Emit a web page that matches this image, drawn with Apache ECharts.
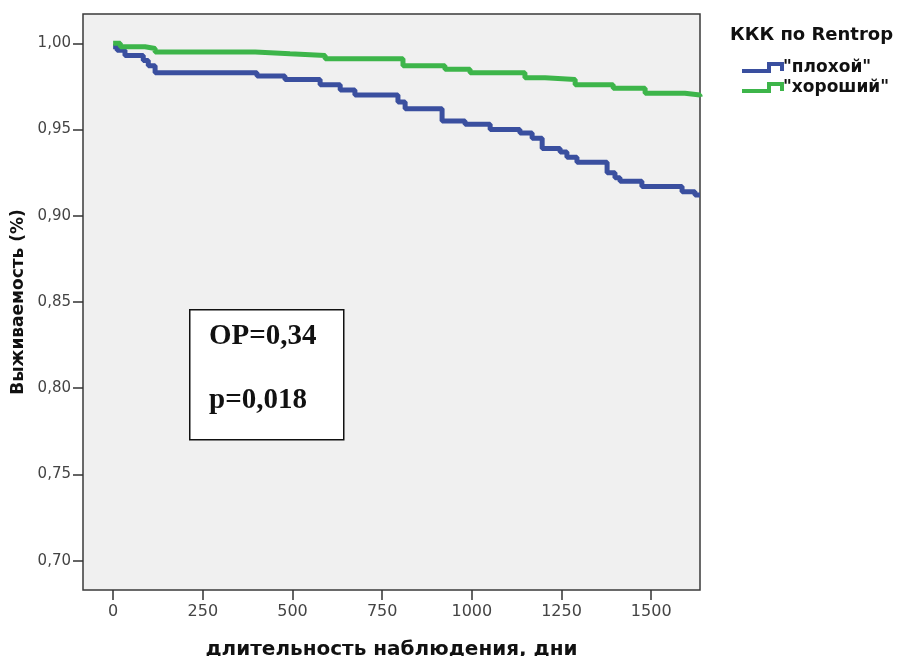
<!DOCTYPE html>
<html>
<head>
<meta charset="utf-8">
<script src="https://cdn.jsdelivr.net/npm/echarts@6/dist/echarts.min.js"></script>
<style>
  html, body { margin: 0; padding: 0; background: #fff; }
  #chart { width: 899px; height: 656px; }
</style>
</head>
<body>
<div id="chart"></div>
<script>
// кривые выживаемости (Каплан-Мейер), точки ступенек: [день, доля]
var badDays = [0, 11, 33, 84, 98, 117, 401, 479, 577, 633, 674, 794, 814, 917, 981, 1051, 1134, 1168, 1196, 1246, 1265, 1293, 1377, 1399, 1413, 1474, 1586, 1622, 1636];
var badSurv = [0.998, 0.996, 0.993, 0.990, 0.987, 0.983, 0.981, 0.979, 0.976, 0.973, 0.970, 0.966, 0.962, 0.955, 0.953, 0.950, 0.948, 0.945, 0.939, 0.937, 0.934, 0.931, 0.925, 0.922, 0.920, 0.917, 0.914, 0.912, 0.912];
var goodDays = [0, 20, 89, 117, 396, 493, 591, 808, 925, 995, 1148, 1204, 1288, 1394, 1483, 1594, 1636];
var goodSurv = [1.000, 0.998, 0.997, 0.995, 0.994, 0.993, 0.991, 0.987, 0.985, 0.983, 0.980, 0.979, 0.976, 0.974, 0.971, 0.970, 0.969];

var seriesNames = ['"плохой"', '"хороший"'];
var xTicks = [0, 250, 500, 750, 1000, 1250, 1500];
var yTicks = [0.70, 0.75, 0.80, 0.85, 0.90, 0.95, 1.00];

function pairs(xs, ys) {
    var out = [];
    for (var i = 0; i < xs.length; i++) {
        out.push([xs[i], ys[i]]);
    }
    return out;
}

// значок легенды в виде ступеньки, как в SPSS
var stepIcon = 'path://M0,7 L25,7 L25,0 L42,0 L42,9 L38,9 L38,4 L29,4 L29,11 L0,11 Z';

var chart = echarts.init(document.getElementById('chart'));
var option = {
    animation: false,
    backgroundColor: '#fff',
    title: {
        text: 'ККК по Rentrop',
        left: 725,
        top: 21,
        textStyle: {
            fontFamily: 'DejaVu Sans',
            fontSize: 18,
            fontWeight: 'bold',
            color: '#111'
        }
    },
    legend: {
        orient: 'vertical',
        left: 737,
        top: 54,
        itemGap: 3,
        itemWidth: 42,
        itemHeight: 11,
        data: [
            { name: seriesNames[0], icon: stepIcon },
            { name: seriesNames[1], icon: stepIcon }
        ],
        textStyle: {
            fontFamily: 'DejaVu Sans',
            fontWeight: 'bold',
            fontSize: 17,
            color: '#111',
            padding: [0, 0, 0, -6]
        }
    },
    grid: {
        left: 83,
        top: 14,
        right: 199,
        bottom: 66,
        outerBoundsMode: 'none',
        containLabel: false,
        show: true,
        backgroundColor: '#f0f0f0',
        borderColor: '#3a3a3a',
        borderWidth: 1.5
    },
    xAxis: {
        type: 'value',
        min: -84,
        max: 1636,
        name: 'длительность наблюдения, дни',
        nameLocation: 'middle',
        nameGap: 50,
        nameTextStyle: {
            fontFamily: 'DejaVu Sans',
            fontWeight: 'bold',
            fontSize: 20,
            color: '#111'
        },
        axisLine: { show: false, onZero: false },
        splitLine: { show: false },
        axisTick: {
            customValues: xTicks,
            length: 10,
            lineStyle: { color: '#333', width: 1.5 }
        },
        axisLabel: {
            customValues: xTicks,
            margin: 14,
            fontFamily: 'DejaVu Sans',
            fontSize: 16,
            color: '#444',
            formatter: function (v) {
                return String(v);
            }
        }
    },
    yAxis: {
        type: 'value',
        min: 0.683,
        max: 1.017,
        name: 'Выживаемость (%)',
        nameLocation: 'middle',
        nameGap: 53,
        nameTextStyle: {
            fontFamily: 'DejaVu Sans',
            fontWeight: 'bold',
            fontSize: 17,
            color: '#111'
        },
        axisLine: { show: false, onZero: false },
        splitLine: { show: false },
        axisTick: {
            customValues: yTicks,
            length: 10,
            lineStyle: { color: '#333', width: 1.5 }
        },
        axisLabel: {
            customValues: yTicks,
            margin: 12,
            fontFamily: 'DejaVu Sans',
            fontSize: 15,
            color: '#444',
            formatter: function (v) {
                return v.toFixed(2).replace('.', ',');
            }
        }
    },
    series: [
        {
            name: seriesNames[0],
            type: 'line',
            step: 'end',
            showSymbol: false,
            color: '#3a4f9f',
            lineStyle: { width: 5 },
            data: pairs(badDays, badSurv)
        },
        {
            name: seriesNames[1],
            type: 'line',
            step: 'end',
            showSymbol: false,
            color: '#3db54a',
            lineStyle: { width: 5 },
            data: pairs(goodDays, goodSurv)
        }
    ],
    graphic: [
        {
            type: 'rect',
            left: 189,
            top: 309,
            shape: { width: 154, height: 130 },
            style: { fill: '#fff', stroke: '#111', lineWidth: 1.5 },
            z: 100
        },
        {
            type: 'text',
            left: 209,
            top: 322,
            style: {
                text: 'ОР=0,34',
                font: 'bold 29px "Liberation Serif"',
                fill: '#111'
            },
            z: 101
        },
        {
            type: 'text',
            left: 209,
            top: 386,
            style: {
                text: 'p=0,018',
                font: 'bold 29px "Liberation Serif"',
                fill: '#111'
            },
            z: 101
        }
    ]
};
chart.setOption(option);
</script>
</body>
</html>
